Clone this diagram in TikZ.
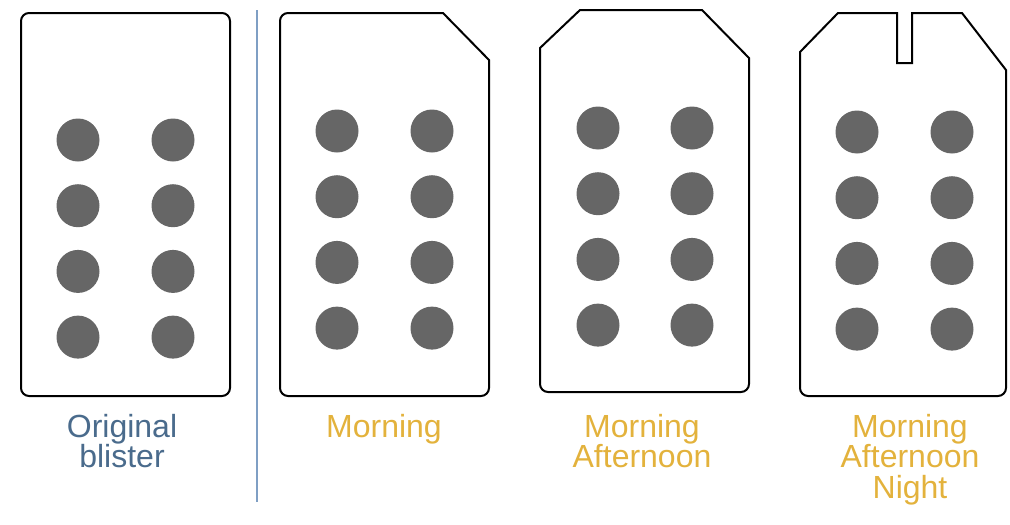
\documentclass[tikz,border=0pt]{standalone}
\usepackage{fontspec}
\setmainfont{Liberation Sans}
\definecolor{pillgray}{HTML}{666666}
\definecolor{rulecol}{HTML}{7F9FC4}
\definecolor{origcol}{HTML}{4A6B8C}
\definecolor{timecol}{HTML}{E3B23C}
\begin{document}
\begin{tikzpicture}[x=1pt, y=-1pt,
    pill/.style={circle, fill=pillgray, minimum size=43pt, inner sep=0pt},
    blister/.style={draw=black, line width=2pt, line join=miter},
    caption/.style={anchor=north, align=center, inner sep=0pt, font=\fontsize{32}{30.5}\selectfont}]
    \useasboundingbox (0,0) rectangle (1010,525);
    % blister outlines
    \draw[blister, rounded corners=8pt] (21,13) rectangle (230,396);
    \draw[blister] (280,200) -- (280,21) arc[start angle=180, end angle=270, radius=8] -- (443,13) -- (489,60)
        -- (489,388) arc[start angle=0, end angle=90, radius=8] -- (288,396) arc[start angle=90, end angle=180, radius=8] -- cycle;
    \draw[blister] (540,200) -- (540,48) -- (580,10) -- (702,10) -- (749,58)
        -- (749,384) arc[start angle=0, end angle=90, radius=8] -- (548,392) arc[start angle=90, end angle=180, radius=8] -- cycle;
    \draw[blister] (800,200) -- (800,52) -- (838,13) -- (897,13) -- (897,63) -- (912,63) -- (912,13) -- (962,13) -- (1006,70)
        -- (1006,388) arc[start angle=0, end angle=90, radius=8] -- (808,396) arc[start angle=90, end angle=180, radius=8] -- cycle;
    % pills
    \foreach \b/\xa/\xb/\ytop in {1/78/173/140, 2/337/432/131, 3/598/692/128, 4/857/952/132} {
        \foreach \r in {0,...,3} {
            \node[pill] (p\b-\r-a) at (\xa, \ytop+65.7*\r) {};
            \node[pill] (p\b-\r-b) at (\xb, \ytop+65.7*\r) {};
        }
    }
    % separator
    \coordinate (sep-top) at (257,10);
    \coordinate (sep-bot) at (257,502);
    \draw[rulecol, line width=2pt] (sep-top) -- (sep-bot);
    % captions
    \node[caption, text=origcol] (orig) at (122,414) {Original\\blister};
    \node[caption, text=timecol] (morn) at (384,414) {Morning};
    \node[caption, text=timecol] (aft) at (642,414) {Morning\\Afternoon};
    \node[caption, text=timecol] (night) at (910,414) {Morning\\Afternoon\\Night};
\end{tikzpicture}
\end{document}
